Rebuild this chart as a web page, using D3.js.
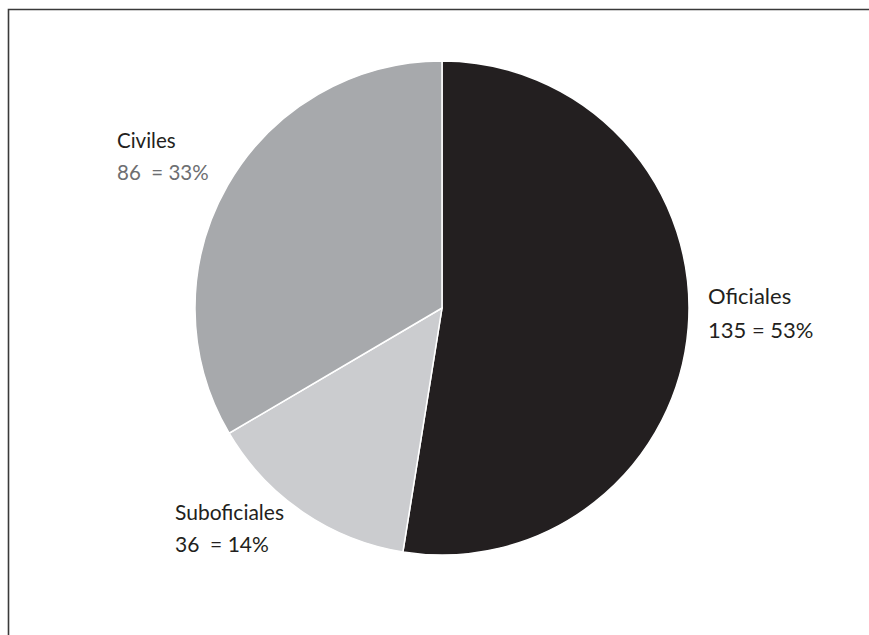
<!DOCTYPE html>
<html><head><meta charset="utf-8">
<script src="https://cdn.jsdelivr.net/npm/d3@7"></script>
<style>body{margin:0;background:#fff}svg{display:block}text{font-family:Lato,"Open Sans",sans-serif}</style>
</head><body>
<svg id="c" width="869" height="635"></svg>
<script>
const categories = ["Oficiales","Suboficiales","Civiles"];
const values = [135,36,86];
const valueLabels = ["135 = 53%","36\u00a0 = 14%","86\u00a0 = 33%"];
const colors = ["#231f20","#cbcccf","#a7a9ac"];

const svg = d3.select("#c");
svg.append("path").attr("d","M8.5,640 L8.5,9.5 L875,9.5").attr("fill","none").attr("stroke","#3a3a3a").attr("stroke-width",1.6);

const cx=442, cy=308, r=247;
const pie = d3.pie().sort(null).value(d=>d)(values);
const arc = d3.arc().innerRadius(0).outerRadius(r);
const g = svg.append("g").attr("transform",`translate(${cx},${cy})`);
g.selectAll("path").data(pie).join("path").attr("d",arc)
  .attr("fill",(d,i)=>colors[i]).attr("stroke","#fff").attr("stroke-width",1.5);

const labels = [
  {x:708,y1:304,y2:338,size:22,c2:"#231f20"},
  {x:175,y1:520,y2:552,size:21,c2:"#231f20"},
  {x:117,y1:148,y2:180,size:20.5,c2:"#6d6e71"}
];
labels.forEach((l,i)=>{
  svg.append("text").attr("x",l.x).attr("y",l.y1).attr("font-size",l.size).attr("fill","#231f20").text(categories[i]);
  svg.append("text").attr("x",l.x).attr("y",l.y2).attr("font-size",l.size).attr("fill",l.c2).text(valueLabels[i]);
});
</script>
</body></html>
